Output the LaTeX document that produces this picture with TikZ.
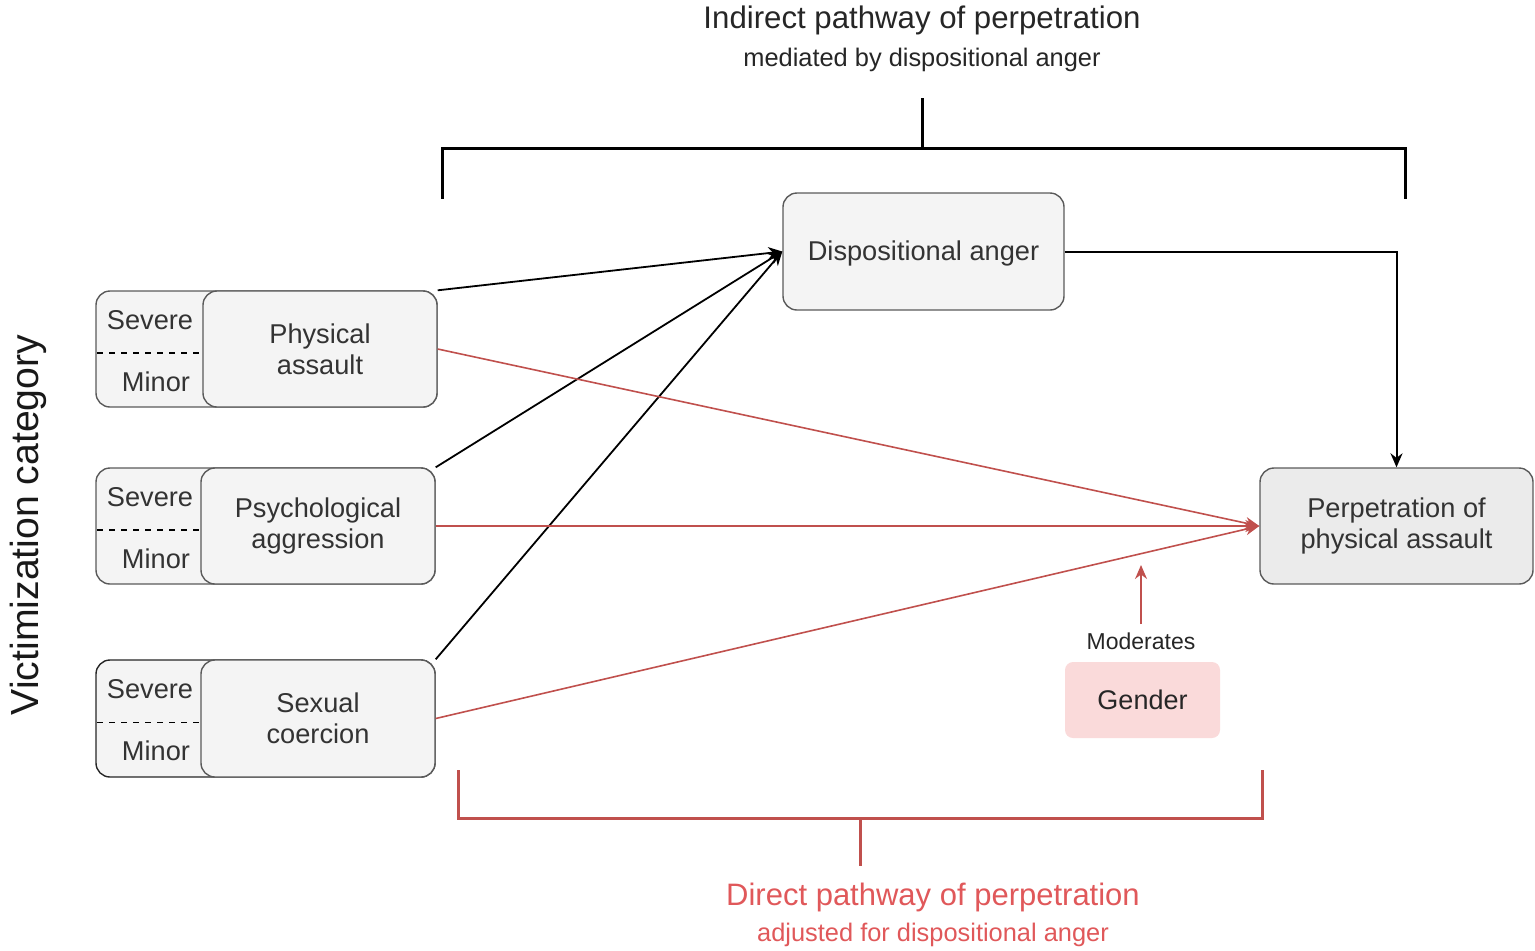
\documentclass[tikz,border=0pt]{standalone}
\usepackage{fontspec}
\setmainfont{Liberation Sans}
\usetikzlibrary{arrows.meta}
\definecolor{boxfill}{HTML}{F4F4F4}
\definecolor{perpfill}{HTML}{EBEBEB}
\definecolor{boxline}{HTML}{5A5A5A}
\definecolor{txt}{HTML}{333333}
\definecolor{redline}{HTML}{C0504D}
\definecolor{redtxt}{HTML}{E0585A}
\definecolor{pink}{HTML}{FADADA}
\tikzset{
  box/.style={draw=boxline, line width=0.7pt, fill=boxfill, rounded corners=7pt, align=center, text=txt, font=\fontsize{13.6}{15.5}\selectfont, inner sep=0pt},
  lbl/.style={text=txt, font=\fontsize{13.6}{15.5}\selectfont, inner sep=0pt},
  blk/.style={line width=0.9pt, -{Stealth[length=7pt,width=6pt]}},
  red/.style={draw=redline, line width=0.8pt, -{Stealth[length=7pt,width=6pt]}},
  brk/.style={line width=1.5pt},
}
\begin{document}
\begin{tikzpicture}[x=0.5pt,y=-0.5pt]
\useasboundingbox (0,0) rectangle (1535,950);
% titles
\node[text=black!85, font=\fontsize{15.6}{18}\selectfont] (t1) at (922,20) {Indirect pathway of perpetration};
\node[text=black!85, font=\fontsize{12.7}{15}\selectfont] (t2) at (922,60) {mediated by dispositional anger};
\node[text=redtxt, font=\fontsize{15.5}{18}\selectfont] (d1) at (933,897) {Direct pathway of perpetration};
\node[text=redtxt, font=\fontsize{12.7}{15}\selectfont] (d2) at (933,935) {adjusted for dispositional anger};
\node[rotate=90, text=black!90, font=\fontsize{19.6}{23}\selectfont] (vc) at (28,525) {Victimization category};
% top bracket
\coordinate (tb1) at (442,197); \coordinate (tb2) at (442,148);
\coordinate (tb3) at (1405,148); \coordinate (tb4) at (1405,197);
\coordinate (tbm) at (922,148); \coordinate (tbs) at (922,98);
\draw[brk, line cap=rect] (tb1) -- (tb2) -- (tb3) -- (tb4);
\draw[brk] (tbm) -- (tbs);
% bottom bracket
\coordinate (bb1) at (458,770); \coordinate (bb2) at (458,818);
\coordinate (bb3) at (1262,818); \coordinate (bb4) at (1262,770);
\coordinate (bbm) at (860,818); \coordinate (bbs) at (860,866);
\draw[brk, draw=redline] (bb1) -- (bb2) -- (bb3) -- (bb4);
\draw[brk, draw=redline] (bbm) -- (bbs);
% dispositional anger
\node[box, minimum width=140.5pt, minimum height=58.5pt, text depth=1pt] (da) at (923.5,251.5) {Dispositional anger};
% perpetration
\node[box, fill=perpfill, minimum width=136.5pt, minimum height=58pt] (pp) at (1396.5,526) {Perpetration of\\physical assault};
% physical assault
\node[box, minimum width=170.5pt, minimum height=58pt] (pao) at (266.5,349) {};
\node[box, minimum width=117pt, minimum height=58pt] (pa) at (320,349) {Physical\\assault};
\node[lbl] (pas) at (150,320) {Severe};
\node[lbl] (pam) at (156,382) {Minor};
\draw[dashed, line width=0.6pt] (pao.west) ++(2,4) coordinate (pad1) -- (pa.west |- pad1);
% psychological aggression
\node[box, minimum width=169.5pt, minimum height=58pt] (pgo) at (265.5,526) {};
\node[box, minimum width=117pt, minimum height=58pt] (pg) at (318,526) {Psychological\\aggression};
\node[lbl] (pgs) at (150,497) {Severe};
\node[lbl] (pgm) at (156,559) {Minor};
\draw[dashed, line width=0.6pt] (pgo.west) ++(2,4) coordinate (pgd1) -- (pg.west |- pgd1);
% sexual coercion
\node[box, draw=black!85, minimum width=169.5pt, minimum height=58.5pt] (sco) at (265.5,718.5) {};
\node[box, minimum width=117pt, minimum height=58.5pt] (sc) at (318,718.5) {Sexual\\coercion};
\node[lbl] (scs) at (150,689) {Severe};
\node[lbl] (scm) at (156,751) {Minor};
\draw[dashed, line width=0.6pt] (sco.west) ++(2,4) coordinate (scd1) -- (sc.west |- scd1);
% gender
\node[fill=pink, rounded corners=4pt, minimum width=77.5pt, minimum height=38pt, text=black!85, font=\fontsize{13.5}{15}\selectfont] (g) at (1142.5,700) {Gender};
\node[text=black!85, font=\fontsize{11.5}{13}\selectfont, inner sep=1pt] (mo) at (1141,641) {Moderates};
\coordinate (moe) at (1141,565);
% arrows
\draw[blk] (pa.north east) -- (da.west);
\draw[blk] (pg.north east) -- (da.west);
\draw[blk] (sc.north east) -- (da.west);
\draw[blk, line width=1pt] (da.east) -| (pp.north);
\draw[red] (pa.east) -- (pp.west);
\draw[red] (pg.east) -- (pp.west);
\draw[red] (sc.east) -- (pp.west);
\draw[red] ([yshift=3pt]mo.north) -- (moe);
\end{tikzpicture}
\end{document}
